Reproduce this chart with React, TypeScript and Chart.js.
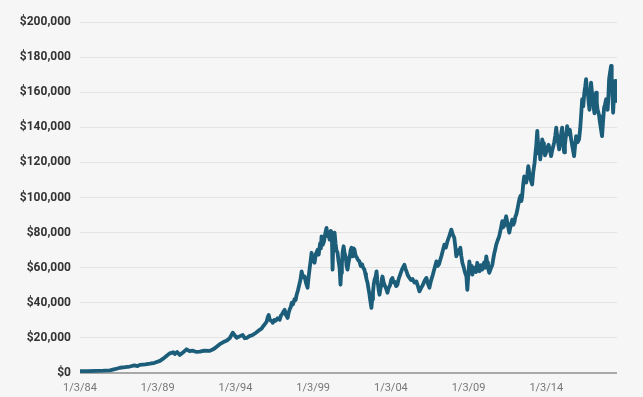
import React, { useEffect, useRef } from "react";
import { Chart, registerables } from "chart.js";

Chart.register(...registerables);

const years: number[] = [
  1984.0, 1984.5, 1985.0, 1985.5, 1985.93, 1986.3, 1986.57, 1986.9, 1987.2, 1987.5,
  1987.7, 1987.85, 1988.2, 1988.5, 1988.8, 1989.14, 1989.4, 1989.6, 1989.78, 1990.0,
  1990.1, 1990.25, 1990.42, 1990.6, 1990.85, 1991.05, 1991.26, 1991.5, 1991.71, 1992.0,
  1992.35, 1992.5, 1992.67, 1992.99, 1993.2, 1993.45, 1993.63, 1993.83, 1993.95, 1994.08,
  1994.3, 1994.47, 1994.6, 1994.73, 1994.9, 1995.11, 1995.3,
  1995.56, 1995.68, 1995.8, 1995.9, 1996.01, 1996.08, 1996.14, 1996.2, 1996.25, 1996.32,
  1996.4, 1996.5, 1996.6, 1996.72, 1996.85, 1996.93, 1997.0, 1997.08, 1997.17, 1997.25,
  1997.36, 1997.43, 1997.5, 1997.56, 1997.62, 1997.7, 1997.8, 1997.87, 1997.94, 1998.02,
  1998.1, 1998.18, 1998.26, 1998.35, 1998.45, 1998.55, 1998.64, 1998.7, 1998.78, 1998.84,
  1998.9, 1999.0, 1999.09, 1999.18, 1999.29, 1999.36, 1999.45, 1999.5, 1999.54, 1999.62,
  1999.7, 1999.78, 1999.86, 1999.93, 2000.0, 2000.06, 2000.13, 2000.2, 2000.25, 2000.29,
  2000.32, 2000.38, 2000.44, 2000.5, 2000.57, 2000.63, 2000.7, 2000.76, 2000.8, 2000.85,
  2000.9, 2000.96, 2001.03, 2001.1, 2001.15, 2001.21, 2001.28, 2001.35, 2001.41, 2001.47,
  2001.52, 2001.56, 2001.61, 2001.66, 2001.73, 2001.8, 2001.88, 2001.98, 2002.06, 2002.15,
  2002.22, 2002.3, 2002.36, 2002.4, 2002.45, 2002.5, 2002.56, 2002.62, 2002.68, 2002.75,
  2002.8, 2002.85, 2002.9, 2002.95, 2003.02, 2003.08, 2003.13, 2003.18, 2003.22, 2003.27,
  2003.33, 2003.38, 2003.42, 2003.46, 2003.53, 2003.6, 2003.7, 2003.78, 2003.86, 2003.95,
  2004.02, 2004.1, 2004.18, 2004.25, 2004.34, 2004.42, 2004.5, 2004.6, 2004.72, 2004.87,
  2004.94, 2005.0, 2005.1, 2005.19, 2005.3, 2005.4, 2005.52, 2005.64, 2005.74, 2005.84,
  2005.95, 2006.05, 2006.17, 2006.29, 2006.38, 2006.48, 2006.58, 2006.7, 2006.82, 2006.93,
  2007.02, 2007.1, 2007.18, 2007.25, 2007.35, 2007.44, 2007.54, 2007.64, 2007.76, 2007.89,
  2007.98, 2008.08, 2008.15, 2008.21, 2008.28, 2008.35, 2008.41, 2008.47, 2008.53, 2008.6,
  2008.68, 2008.75, 2008.8, 2008.86, 2008.89, 2008.92, 2008.98, 2009.05, 2009.1, 2009.15,
  2009.2, 2009.24, 2009.32, 2009.4, 2009.48, 2009.56, 2009.63, 2009.7, 2009.79, 2009.88,
  2009.94, 2010.0, 2010.07, 2010.14, 2010.2, 2010.25, 2010.33, 2010.43, 2010.53, 2010.59,
  2010.65, 2010.72, 2010.78, 2010.87, 2010.97, 2011.07, 2011.17, 2011.23, 2011.3, 2011.36,
  2011.42, 2011.52, 2011.62, 2011.71, 2011.81, 2011.88, 2011.95, 2012.01, 2012.07, 2012.14,
  2012.2, 2012.28, 2012.35, 2012.4, 2012.45, 2012.52, 2012.58, 2012.64, 2012.71, 2012.78,
  2012.84, 2012.96, 2013.09, 2013.17, 2013.25, 2013.3, 2013.35, 2013.42, 2013.47, 2013.52,
  2013.57, 2013.61, 2013.68, 2013.74, 2013.8, 2013.85, 2013.92, 2013.99, 2014.07, 2014.15,
  2014.23, 2014.31, 2014.4, 2014.51, 2014.58, 2014.64, 2014.7, 2014.75, 2014.79, 2014.83,
  2014.92, 2015.02, 2015.08, 2015.15, 2015.2, 2015.25, 2015.3, 2015.34, 2015.4, 2015.45,
  2015.52, 2015.6, 2015.7, 2015.79, 2015.86, 2015.92, 2016.02, 2016.11, 2016.18, 2016.24,
  2016.31, 2016.38, 2016.45, 2016.5, 2016.56, 2016.62, 2016.69, 2016.74, 2016.78, 2016.83,
  2016.88, 2016.95, 2017.01, 2017.06, 2017.1, 2017.15, 2017.2, 2017.25, 2017.3, 2017.35,
  2017.4, 2017.45, 2017.5, 2017.55, 2017.59, 2017.65, 2017.72, 2017.78, 2017.85, 2017.9,
  2017.95, 2018.0, 2018.04, 2018.1, 2018.17, 2018.21, 2018.25, 2018.3, 2018.36, 2018.4,
  2018.43, 2018.47, 2018.5, 2018.55,
];

const values: number[] = [
  1000, 1100, 1200, 1300, 1500, 2300, 3000, 3300, 3700, 4300,
  3900, 4600, 4900, 5300, 5800, 6900, 8500, 10000, 11200, 11800,
  10800, 12000, 10300, 11500, 13500, 12400, 12700, 12000, 12200, 12800,
  12600, 13200, 14100, 16400, 17500, 18500, 19800, 23000, 21500, 20000,
  21000, 21700, 19800, 20000, 21000, 21700, 22800,
  24600, 25300, 26800, 27900, 29300, 31800, 33100, 30800, 30000, 29800,
  28600, 30200, 29800, 31200, 30300, 32800, 33500, 34800, 36000, 33000,
  31400, 34500, 36500, 37500, 40000, 39000, 42000, 41500, 44600, 47000,
  50000, 53000, 57900, 54500, 55000, 51000, 48600, 54000, 60000, 64000,
  68500, 64000, 62800, 68000, 70300, 67500, 74000, 71000, 77900, 73000,
  75000, 79500, 82700, 78000, 79000, 76000, 81000, 80000, 58900, 72000,
  76000, 80000, 74000, 70000, 68500, 64000, 60000, 50300, 57000, 62000,
  69000, 72200, 68000, 66000, 61000, 58900, 63000, 66000, 70000, 71400,
  66500, 67000, 71000, 70300, 67000, 66000, 64500, 63600, 61000, 62000,
  60000, 58900, 56500, 55000, 53000, 51400, 48000, 45000, 41000, 37100,
  42000, 46000, 50500, 53100, 55000, 57900, 53000, 50000, 47000, 44600,
  48000, 50000, 53500, 55000, 52000, 50000, 48000, 45700, 48500, 50000,
  53000, 54200, 51500, 52000, 49500, 50300, 53500, 56000, 59000, 61700,
  59500, 58000, 55500, 54200, 53000, 53500, 51500, 52200, 49500, 46500,
  48500, 50000, 52500, 54200, 51000, 48600, 52500, 56000, 60000, 63600,
  61000, 62000, 64500, 66500, 70000, 73100, 71500, 75000, 78000, 81700,
  79000, 77100, 72000, 66500, 69000, 70000, 68000, 71400, 67000, 62800,
  60500, 58000, 56500, 55000, 51000, 47400, 55000, 63600, 60500, 58000,
  61000, 56000, 58500, 60000, 57500, 62800, 60000, 58000, 61500, 58900,
  61000, 63000, 60000, 66500, 63000, 60000, 57100, 59500, 61700, 65000,
  68000, 70500, 73100, 75500, 77900, 82000, 86500, 83000, 84000, 87000,
  89300, 84500, 80000, 84000, 87400, 84500, 86000, 89000, 90300, 93000,
  96000, 99500, 101000, 98000, 100700, 108000, 112000, 110000, 108500, 113000,
  117900, 111000, 107400, 115000, 120000, 125000, 129300, 137900, 131000, 125000,
  128000, 121700, 127000, 133100, 131000, 128000, 124000, 125700, 128500, 130000,
  127000, 123600, 127500, 131400, 135500, 139800, 135000, 132000, 129500, 127400,
  134000, 139800, 131000, 125700, 130000, 134000, 137000, 140700, 138000, 136000,
  138500, 133100, 128000, 123600, 130000, 135000, 131500, 133100, 139000, 146500,
  156000, 152000, 160000, 163000, 167400, 161000, 158000, 153000, 150000, 158000,
  165500, 159000, 154100, 150500, 148000, 155000, 159800, 154000, 150000, 148500,
  146500, 143000, 140000, 137000, 135000, 143000, 151200, 153000, 156000, 152000,
  150000, 158000, 167400, 171000, 175000, 167000, 160000, 148300, 158000, 162000,
  166500, 159000, 155000, 162000,
];

const xTickYears: number[] = [1984, 1989, 1994, 1999, 2004, 2009, 2014];
const xTickLabels: string[] = ["1/3/84", "1/3/89", "1/3/94", "1/3/99", "1/3/04", "1/3/09", "1/3/14"];
const yTickValues: number[] = [0, 20000, 40000, 60000, 80000, 100000, 120000, 140000, 160000, 180000, 200000];

const BG = "#f6f6f6";

const bgPlugin = {
  id: "bgFill",
  beforeDraw(chart: any) {
    const ctx = chart.ctx;
    ctx.save();
    ctx.fillStyle = BG;
    ctx.fillRect(0, 0, chart.width, chart.height);
    ctx.restore();
  },
};

export default function App() {
  const ref = useRef<HTMLCanvasElement | null>(null);

  useEffect(() => {
    document.body.style.margin = "0";
    document.body.style.background = BG;
    const canvas = ref.current;
    if (!canvas) return;
    const chart = new Chart(canvas, {
      type: "line",
      data: {
        datasets: [
          {
            data: years.map((x, i) => ({ x, y: values[i] })),
            borderColor: "#1c5d7a",
            borderWidth: 3.8,
            pointRadius: 0,
            tension: 0,
            borderJoinStyle: "round",
            fill: false,
          },
        ],
      },
      options: {
        responsive: false,
        animation: false,
        layout: { padding: { top: 22, right: 26, left: 0, bottom: 0 } },
        plugins: { legend: { display: false }, tooltip: { enabled: false } },
        scales: {
          x: {
            type: "linear",
            min: 1984,
            max: 2018.55,
            afterBuildTicks(scale: any) {
              scale.ticks = xTickYears.map((v) => ({ value: v }));
            },
            afterFit(scale: any) {
              scale.height = 24;
            },
            grid: { display: false, drawTicks: false },
            border: { display: false },
            ticks: {
              padding: 9,
              color: "#777",
              font: { family: "Roboto", size: 11 },
              maxRotation: 0,
              autoSkip: false,
              callback: (v: any) => {
                const i = xTickYears.indexOf(Number(v));
                return i >= 0 ? xTickLabels[i] : "";
              },
            },
          },
          y: {
            min: 0,
            max: 200000,
            afterBuildTicks(scale: any) {
              scale.ticks = yTickValues.map((v) => ({ value: v }));
            },
            afterFit(scale: any) {
              scale.width = 80;
            },
            grid: {
              drawTicks: false,
              color: (c: any) => (c.tick && c.tick.value === 0 ? "#a8a8a8" : "#e3e3e3"),
              lineWidth: (c: any) => (c.tick && c.tick.value === 0 ? 2 : 1),
            },
            border: { display: false },
            ticks: {
              padding: 9,
              color: "#333",
              font: { family: "Roboto", size: 12, weight: "bold" },
              callback: (v: any) => "$" + Number(v).toLocaleString("en-US"),
            },
          },
        },
      },
      plugins: [bgPlugin],
    });
    return () => chart.destroy();
  }, []);

  return <canvas ref={ref} width={643} height={397} style={{ display: "block" }} />;
}
